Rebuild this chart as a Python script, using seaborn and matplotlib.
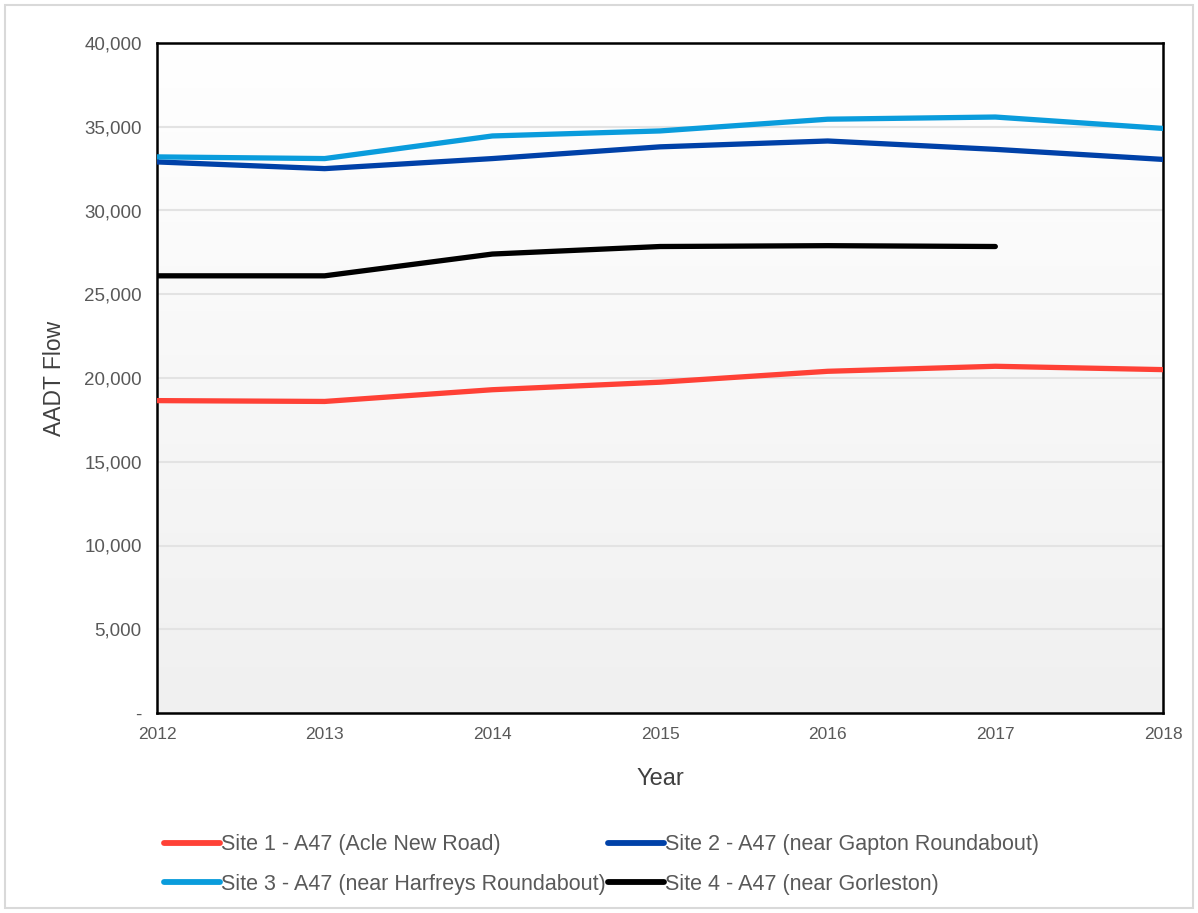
import numpy as np
import pandas as pd
import matplotlib
matplotlib.use("Agg")
import matplotlib.pyplot as plt
import seaborn as sns
from matplotlib.patches import Rectangle
from matplotlib.ticker import FuncFormatter

years = [2012, 2013, 2014, 2015, 2016, 2017, 2018]
site1 = [18650, 18600, 19300, 19750, 20400, 20700, 20500]
site2 = [32900, 32500, 33100, 33800, 34150, 33650, 33050]
site3 = [33200, 33100, 34450, 34750, 35450, 35580, 34900]
site4 = [26100, 26100, 27400, 27850, 27900, 27850, None]
names = ["Site 1 - A47 (Acle New Road)",
         "Site 2 - A47 (near Gapton Roundabout)",
         "Site 3 - A47 (near Harfreys Roundabout)",
         "Site 4 - A47 (near Gorleston)"]
colors = ["#FF4136", "#0041A8", "#0A9CDC", "#000000"]

rows = []
for name, vals in zip(names, [site1, site2, site3, site4]):
    for y, v in zip(years, vals):
        if v is not None:
            rows.append({"Year": y, "AADT Flow": v, "Site": name})
df = pd.DataFrame(rows)

sns.set_style("white")
plt.rcParams["font.family"] = ["Liberation Sans", "DejaVu Sans"]

fig = plt.figure(figsize=(11.98, 9.13), dpi=100)
ax = fig.add_axes([157/1198, 1-713/913, (1163-157)/1198, (713-43)/913])

# gradient background
grad = np.linspace(0, 1, 256).reshape(-1, 1)
cmap = matplotlib.colors.LinearSegmentedColormap.from_list("g", ["#ffffff", "#f0f0f0"])
ax.imshow(grad, aspect="auto", cmap=cmap, extent=[0, 1, 0, 1],
          transform=ax.transAxes, zorder=0, origin="upper")

sns.lineplot(data=df, x="Year", y="AADT Flow", hue="Site", hue_order=names,
             palette=colors, linewidth=3.8, ax=ax, legend=False, zorder=3,
             solid_capstyle="round")

ax.set_xlim(2012, 2018)
ax.set_ylim(0, 40000)
ax.set_yticks(range(0, 40001, 5000))
ax.set_xticks(years)
ax.yaxis.set_major_formatter(FuncFormatter(lambda v, p: "-" if v == 0 else f"{int(v):,}"))
ax.grid(axis="y", color="#e3e3e3", linewidth=1.5, zorder=1)
ax.set_axisbelow(True)
for s in ax.spines.values():
    s.set_color("black")
    s.set_linewidth(1.8)
    s.set_visible(True)
ax.tick_params(axis="x", direction="out", length=6, width=1.8, color="black",
               labelsize=12.5, labelcolor="#595959", pad=4)
ax.tick_params(axis="y", length=0, labelsize=13.5, labelcolor="#595959", pad=11)
ax.set_xlabel("Year", fontsize=17, color="#404040", labelpad=19)
ax.set_ylabel("AADT Flow", fontsize=16.5, color="#404040", labelpad=13)

handles = [matplotlib.lines.Line2D([], [], color=c, linewidth=4.2, solid_capstyle="round")
           for c in colors]
order = [0, 2, 1, 3]
fig.legend([handles[i] for i in order], [names[i] for i in order],
           loc="upper left", bbox_to_anchor=(145/1198, 1-815/913),
           ncol=2, frameon=False, fontsize=15.5, handlelength=2.6, handletextpad=0.05,
           columnspacing=0.1, labelspacing=0.85, labelcolor="#595959")

fig.patches.append(Rectangle((5/1198, 5/913), 1188/1198, 903/913, transform=fig.transFigure,
                             fill=False, edgecolor="#d9d9d9", linewidth=1.5))

fig.savefig("out.png", dpi=100)
